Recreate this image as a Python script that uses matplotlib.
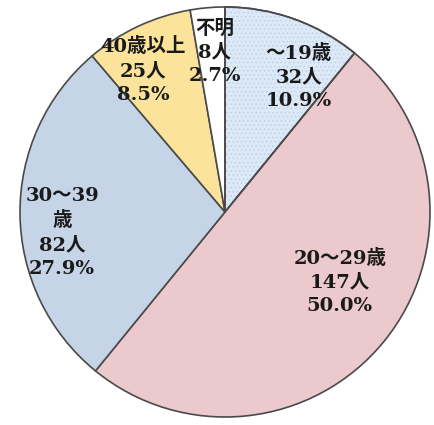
import matplotlib.pyplot as plt
from matplotlib.patches import Wedge

# data
labels = ['～19歳', '20～29歳', '30～39\n歳', '40歳以上', '不明']
counts = [32, 147, 82, 25, 8]
percents = [10.9, 50.0, 27.9, 8.5, 2.7]
colors = ['#dde9f6', '#ebc9cd', '#c5d4e6', '#fce39c', '#ffffff']

plt.rcParams['font.family'] = ['DejaVu Serif', 'Noto Sans CJK JP']
plt.rcParams['hatch.linewidth'] = 0.6

fig = plt.figure(figsize=(4.34, 4.25), dpi=100)
ax = fig.add_axes([0, 0, 1, 1])

r = 205.0
cx, cy = 225.0, 212.0
wedges, _ = ax.pie(counts, colors=colors, startangle=90, counterclock=False,
                   radius=1.0,
                   wedgeprops=dict(edgecolor='#4a4a4a', linewidth=1.2))

# dotted texture on the first slice
w0 = wedges[0]
dots = Wedge(w0.center, w0.r, w0.theta1, w0.theta2, facecolor='none',
             edgecolor='#bcd2ea', linewidth=0, hatch='....', zorder=w0.get_zorder())
ax.add_patch(dots)
w0_edge = Wedge(w0.center, w0.r, w0.theta1, w0.theta2, facecolor='none',
                edgecolor='#4a4a4a', linewidth=1.2, zorder=w0.get_zorder())
ax.add_patch(w0_edge)

# label centres, as fraction of the radius
label_pos = [(0.36, 0.66), (0.56, -0.34), (-0.795, -0.10), (-0.40, 0.69), (-0.05, 0.78)]
for lab, n, p, (x, y) in zip(labels, counts, percents, label_pos):
    ax.text(x, y, f'{lab}\n{n}人\n{p:.1f}%', ha='center', va='center',
            fontsize=14, fontweight='bold', linespacing=1.4, color='#1a1a1a')

ax.set_xlim(-cx / r, (434 - cx) / r)
ax.set_ylim(-(425 - cy) / r, cy / r)
ax.set_aspect('equal')
ax.axis('off')

fig.savefig('out.png', dpi=100)
